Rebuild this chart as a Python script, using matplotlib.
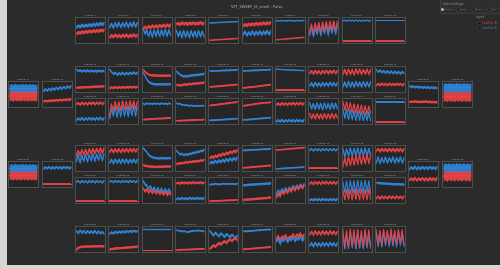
import matplotlib
matplotlib.use('Agg')
import matplotlib.pyplot as plt
from matplotlib.patches import Rectangle
import numpy as np

# ---------------- data (0-100 scale inside each panel) ----------------
TITLE = "VFT_SWEEP_(E_seed) - Pulse"
LEGEND_LABELS = ["Condition A", "Condition B"]
RADIO_LABELS = ["Individual", "Global", "Linked", "Auto"]

R1_TITLES = ["Channel %d" % i for i in range(1, 11)]
R1_RED = [
    [35,42,38,45,40,46,42,48,43,49,45,50,46,52,48,53],
    [20,30,22,32,23,30,22,31,24,32,23,30,25,33,24,31],
    [55,65,58,68,60,70,62,70,63,72,64,73,65,74,66,75],
    [75,80,74,82,76,80,75,81,77,82,76,80,78,83,77,81],
    [8,9,9,10,10,11,11,12,12,13,13,14,14,15,15,16],
    [68,75,70,77,72,78,73,80,74,80,75,82,76,82,78,84],
    [10,11,12,12,13,14,14,15,16,16,17,18,18,19,20,20],
    [40,75,35,78,45,80,40,82,48,85,45,85,50,86,48,85],
    [5,5,5,5,5,5,5,5,5,5,5,5,5,5,5,5],
    [5,5,5,5,5,5,5,5,5,5,5,5,5,5,5,5],
]
R1_BLUE = [
    [62,70,64,72,66,73,67,75,69,76,70,78,72,80,74,81],
    [62,78,60,80,64,82,62,80,65,83,63,81,66,84,64,82],
    [60,35,50,25,48,22,50,25,52,24,50,26,53,25,52,28],
    [50,25,45,20,48,22,46,20,47,23,45,21,48,24,46,22],
    [80,80,81,81,82,82,82,83,83,83,84,84,85,85,85,86],
    [30,45,28,42,32,46,30,44,33,46,32,45,35,48,33,46],
    [88,90,88,91,89,90,88,91,89,90,88,91,89,90,89,91],
    [30,65,25,60,35,70,28,65,38,72,30,68,40,72,35,70],
    [88,92,87,92,88,92,87,92,88,92,87,92,88,92,88,91],
    [92,92,92,92,92,92,92,92,92,92,92,92,92,92,92,92],
]
R1_SPREAD = [7, 7, 7, 7, 2, 7, 2, 9, 2, 1.5]

R2_TITLES = ["Channel %d" % i for i in range(13, 23)]
R2_RED = [
    [15,16,16,17,17,18,18,18,19,19,20,20,20,21,21,22],
    [12,18,13,19,14,18,14,19,15,19,15,20,16,20,16,20],
    [90,82,75,70,68,66,67,66,66,65,66,65,66,65,66,66],
    [25,28,24,27,28,30,27,32,30,33,31,35,33,36,35,38],
    [18,19,20,20,21,22,22,23,24,24,25,26,26,27,28,28],
    [14,15,16,17,18,18,19,20,21,22,23,24,25,26,27,28],
    [5,5,5,5,5,5,5,5,5,5,5,5,5,5,5,5],
    [75,85,73,86,74,85,72,86,75,87,74,86,76,87,75,86],
    [70,90,68,92,70,90,68,92,72,92,70,90,72,92,70,90],
    [24,32,25,33,26,32,24,33,26,32,25,33,26,32,25,32],
]
R2_BLUE = [
    [90,84,88,82,87,83,88,82,87,83,86,82,87,83,86,83],
    [90,80,72,78,68,76,70,78,70,77,71,78,72,79,72,78],
    [80,65,50,40,35,32,30,30,29,30,29,30,29,30,30,30],
    [82,76,70,65,62,64,62,66,65,68,67,70,68,72,70,74],
    [84,85,84,86,85,86,86,87,86,88,87,88,88,89,88,90],
    [84,85,86,85,87,86,88,87,88,89,88,90,89,90,90,91],
    [92,91,91,90,90,89,89,89,88,88,88,87,87,87,86,86],
    [22,35,20,36,22,34,21,36,23,35,22,37,24,36,23,35],
    [18,38,16,40,18,38,17,40,20,38,18,40,20,38,19,40],
    [90,80,88,78,86,76,85,75,84,74,83,74,82,73,82,74],
]
R2_SPREAD = [5, 5, 5, 5, 3.5, 3.5, 2, 6, 6, 5]

R3_TITLES = ["Channel %d" % i for i in range(23, 33)]
R3_RED = [
    [78,86,76,87,78,86,77,87,79,88,78,87,80,88,79,87],
    [30,80,50,90,55,88,52,92,58,90,55,92,60,92,58,90],
    [15,16,17,17,18,18,19,19,20,20,20,21,21,22,22,22],
    [10,11,11,12,12,12,13,13,13,14,14,14,15,15,15,16],
    [74,75,76,77,78,79,80,81,82,83,84,85,86,87,88,89],
    [72,74,75,76,78,78,80,81,82,83,84,85,86,86,87,88],
    [76,84,75,85,77,84,76,85,78,86,77,85,78,86,77,85],
    [40,20,38,18,40,20,38,18,40,20,38,20,40,20,38,22],
    [90,55,88,50,85,45,80,42,78,40,75,40,72,38,70,40],
    [5,5,5,5,5,5,5,5,5,5,5,5,5,5,5,5],
]
R3_BLUE = [
    [12,22,14,23,13,22,14,24,15,22,14,23,15,24,14,22],
    [20,60,30,70,25,65,28,72,30,68,28,70,32,72,30,68],
    [82,78,84,80,83,79,84,80,83,79,84,80,83,79,84,80],
    [84,80,82,76,78,74,76,72,75,72,74,71,74,72,74,73],
    [12,13,13,14,14,15,15,16,16,17,17,18,18,19,19,20],
    [14,15,15,16,17,17,18,19,19,20,21,21,22,23,23,24],
    [6,14,7,15,6,14,7,15,8,14,7,15,8,14,7,15],
    [85,60,82,58,84,60,82,56,84,60,82,58,84,60,83,60],
    [60,20,58,15,55,15,52,12,50,12,48,10,45,12,45,10],
    [88,88,88,88,88,88,88,88,88,88,88,88,88,88,88,88],
]
R3_SPREAD = [5, 7, 3.5, 3.5, 3.5, 3.5, 5, 6, 6, 2]

R4_TITLES = ["Channel %d" % i for i in range(37, 47)]
R4_RED = [
    [60,82,62,85,65,86,66,88,68,90,70,90,72,92,72,92],
    [75,88,74,88,76,89,75,88,77,90,76,89,78,90,77,89],
    [22,20,18,17,16,16,15,15,15,16,15,16,16,17,16,17],
    [25,30,28,32,30,35,32,36,35,38,36,40,38,42,40,45],
    [50,58,52,62,56,66,60,70,64,74,68,78,72,82,76,85],
    [10,11,12,12,13,14,14,15,16,16,17,18,18,19,20,20],
    [84,85,86,86,87,88,88,89,90,90,91,92,92,93,94,94],
    [8,8,8,8,8,8,8,8,8,8,8,8,8,8,8,8],
    [15,50,18,55,20,58,22,60,25,62,25,62,28,65,28,65],
    [80,90,78,90,80,90,78,90,80,90,78,90,80,90,78,90],
]
R4_BLUE = [
    [35,65,30,62,38,66,35,64,40,68,38,66,42,70,40,68],
    [30,45,28,46,30,45,29,46,31,46,30,45,32,46,31,45],
    [92,85,75,65,58,55,52,52,50,50,52,50,51,50,52,51],
    [82,74,66,70,62,68,64,70,68,74,72,78,76,82,80,86],
    [28,36,30,40,32,42,34,44,36,48,38,50,40,52,42,55],
    [82,84,83,85,84,86,85,86,86,87,87,88,88,88,89,90],
    [6,7,7,8,8,9,9,10,10,11,11,12,12,13,13,14],
    [82,90,80,90,82,89,80,90,82,90,81,89,82,90,81,89],
    [90,55,88,60,92,58,90,62,92,60,90,62,92,60,90,62],
    [30,55,28,52,32,55,30,52,33,55,30,52,33,55,30,52],
]
R4_SPREAD = [7, 6, 5, 5, 6, 3.5, 3, 3.5, 7, 6]

R5_TITLES = ["Channel %d" % i for i in range(47, 57)]
R5_RED = [
    [3,3,3,3,3,3,3,3,3,3,3,3,3,3,3,3],
    [3,3,3,3,3,3,3,3,3,3,3,3,3,3,3,3],
    [60,45,55,40,52,38,50,36,48,34,45,32,44,30,42,30],
    [78,82,77,84,79,83,78,84,80,84,79,83,80,84,79,83],
    [5,5,6,6,6,7,7,7,8,8,8,9,9,9,10,10],
    [10,11,12,12,13,14,14,15,16,16,17,18,18,19,20,20],
    [20,35,25,45,35,50,40,55,45,62,50,65,55,70,60,72],
    [75,85,74,86,76,85,75,86,77,86,76,85,77,86,76,85],
    [50,10,52,12,50,10,55,12,52,10,55,12,52,10,55,12],
    [15,25,14,26,16,25,15,26,17,25,16,26,17,25,16,26],
]
R5_BLUE = [
    [82,90,80,90,82,89,80,90,82,90,80,90,82,89,80,90],
    [84,90,82,90,84,89,82,90,84,90,82,90,84,89,82,90],
    [90,75,70,55,68,50,62,45,60,42,58,40,55,40,55,38],
    [12,18,13,19,14,18,13,19,15,18,14,19,15,18,14,19],
    [72,76,74,78,75,76,74,78,76,77,75,78,76,77,75,78],
    [70,72,72,74,73,75,74,76,75,77,76,78,77,79,78,80],
    [30,50,35,55,42,60,45,62,50,68,55,70,58,75,60,76],
    [8,14,8,15,9,14,8,15,9,14,8,15,9,14,8,15],
    [85,40,88,35,90,40,88,35,90,40,88,38,90,40,88,38],
    [82,80,81,78,80,77,79,76,78,75,77,75,76,74,76,73],
]
R5_SPREAD = [3.5, 3.5, 6, 5, 3.5, 5, 7, 5, 6, 5]

R6_TITLES = ["Channel %d" % i for i in range(59, 69)]
R6_RED = [
    [5,15,18,20,19,21,20,21,20,22,21,21,22,22,21,22],
    [8,10,11,12,13,13,14,15,15,16,17,17,18,19,19,20],
    [3,3,3,3,3,3,3,3,3,3,3,3,3,3,3,3],
    [5,6,6,7,7,7,8,8,8,9,9,9,10,10,10,11],
    [10,18,25,20,28,35,28,38,42,35,45,50,42,52,55,45],
    [8,9,10,10,11,12,12,13,14,14,15,16,16,17,18,18],
    [50,65,45,62,55,68,50,60,58,72,55,70,62,75,58,70],
    [70,82,68,84,70,82,69,84,71,83,70,84,72,83,70,82],
    [90,20,85,15,92,25,88,18,90,22,85,15,92,25,88,20],
    [88,30,85,25,90,35,86,28,92,32,85,28,90,35,88,30],
]
R6_BLUE = [
    [85,75,88,76,86,74,85,76,84,75,86,73,84,74,82,72],
    [72,80,74,82,76,83,77,84,78,85,80,86,81,86,82,85],
    [90,91,90,91,90,91,90,91,90,91,90,91,90,91,90,91],
    [88,86,85,83,84,82,80,82,84,85,86,86,87,85,84,83],
    [85,75,65,78,70,62,75,68,60,72,66,58,70,62,56,65],
    [82,84,83,85,84,86,86,87,88,88,89,90,90,91,91,90],
    [40,55,30,50,45,58,38,52,48,60,42,55,50,62,45,55],
    [22,35,20,36,22,34,21,36,23,35,22,36,24,35,22,34],
    [70,10,65,12,75,15,68,10,72,12,65,10,75,15,68,12],
    [75,20,70,18,78,25,72,20,76,22,70,18,78,25,72,20],
]
R6_SPREAD = [5, 5, 2, 3.5, 6, 3.5, 7, 6, 7, 7]

# side panels: [left outer, left inner] and [right inner, right outer]
SIDE_UP_TITLES = ["Channel 11", "Channel 12", "Channel 33", "Channel 34"]
SIDE_UP_RED = [
    [40,44,39,45,40,44,39,45,40,44,39,45,40,44,39,44],
    [20,24,21,25,22,26,23,27,24,28,25,29,26,30,27,31],
    [18,20,19,21,19,20,18,20,19,21,18,20,17,19,18,17],
    [38,43,37,44,38,43,37,44,38,43,37,44,38,43,37,43],
]
SIDE_UP_BLUE = [
    [70,74,70,75,71,74,70,75,71,74,70,75,71,74,70,74],
    [62,72,64,74,66,76,68,78,70,80,72,82,74,84,76,85],
    [85,80,84,79,83,78,82,77,81,77,80,76,80,76,79,75],
    [74,78,74,79,75,78,74,79,75,78,74,79,75,78,74,78],
]
SIDE_UP_SPREAD = [19, 5, 5, 19]

SIDE_LO_TITLES = ["Channel 35", "Channel 36", "Channel 57", "Channel 58"]
SIDE_LO_RED = [
    [42,47,41,48,42,47,41,48,42,47,41,48,42,47,41,47],
    [8,8,8,8,8,8,8,8,8,8,8,8,8,8,8,8],
    [24,34,25,35,24,34,26,35,25,34,24,35,26,34,25,35],
    [40,46,38,47,40,46,39,47,40,46,39,47,40,46,39,46],
]
SIDE_LO_BLUE = [
    [72,76,72,77,73,76,72,77,73,76,72,77,73,76,72,76],
    [72,80,74,82,73,80,74,82,74,81,73,82,75,81,74,80],
    [70,80,72,82,71,80,72,81,73,80,72,82,73,80,72,81],
    [72,78,73,79,72,78,73,79,74,78,73,79,72,78,73,78],
]
SIDE_LO_SPREAD = [17, 5, 6, 19]

# ---------------- drawing ----------------
W, H = 500, 268
RED = '#ee4346'
BLUE = '#2f87dc'
BG = '#2b2b2b'

fig = plt.figure(figsize=(W / 100, H / 100), dpi=100)
fig.patch.set_facecolor(BG)

ov = fig.add_axes([0, 0, 1, 1], zorder=0)
ov.set_xlim(0, W)
ov.set_ylim(H, 0)
ov.axis('off')
ov.add_patch(Rectangle((0, 0), 7, H, color='#d6d6d6', lw=0))
ov.add_patch(Rectangle((0, H - 3), W, 3, color='#d6d6d6', lw=0))

ov.text(257, 6, TITLE, fontsize=2.6, color='#bdbdbd', ha='center', va='center')

# control box
ov.add_patch(Rectangle((440, -1), 62, 14, facecolor='#2e2e2e', edgecolor='#454545', lw=0.5))
ov.text(443, 3.5, "Selection Range", fontsize=1.8, color='#9a9a9a', va='center')
for i, lab in enumerate(RADIO_LABELS):
    x0 = 442 + i * 15.5
    ov.plot([x0], [9], 'o', ms=2.2, mfc='#bbbbbb' if i == 0 else '#111111',
            mec='#666666', mew=0.3)
    ov.text(x0 + 2, 9, lab, fontsize=1.5, color='#8a8a8a', va='center')
ov.text(476, 17, "Legend", fontsize=1.8, color='#9a9a9a', va='center')
for j, (lab, col) in enumerate(zip(LEGEND_LABELS, [RED, BLUE])):
    y0 = 22.5 + j * 5.5
    ov.plot([479], [y0], 'o', ms=2.2, mfc='#111111', mec='#555555', mew=0.3)
    ov.text(482, y0, lab, fontsize=1.8, color=col, va='center')

PW, PH = 30, 26


def panel(x, y, title, red, blue, spread):
    ax = fig.add_axes([x / W, 1 - (y + PH) / H, PW / W, PH / H], zorder=2)
    ax.set_facecolor('#262626')
    for sp in ax.spines.values():
        sp.set_color('#575757')
        sp.set_linewidth(0.6)
    t = np.arange(len(red))
    for vals, col in ((blue, BLUE), (red, RED)):
        v = np.asarray(vals, dtype=float)
        ax.fill_between(t, v - spread, v + spread, color=col, lw=0, alpha=0.9)
        ax.plot(t, v, color=col, lw=0.7)
    ax.set_xlim(-0.6, len(red) - 0.4)
    ax.set_ylim(-4, 104)
    ax.set_xticks([])
    ax.set_yticks([])
    ov.text(x + PW / 2, y - 1.8, title, fontsize=1.5, color='#b5b5b5',
            ha='center', va='center')


COL_X = [75 + i * 33.33 for i in range(10)]
rows = [
    (17, R1_TITLES, R1_RED, R1_BLUE, R1_SPREAD),
    (66, R2_TITLES, R2_RED, R2_BLUE, R2_SPREAD),
    (98, R3_TITLES, R3_RED, R3_BLUE, R3_SPREAD),
    (145, R4_TITLES, R4_RED, R4_BLUE, R4_SPREAD),
    (177, R5_TITLES, R5_RED, R5_BLUE, R5_SPREAD),
    (226, R6_TITLES, R6_RED, R6_BLUE, R6_SPREAD),
]
for y, titles, reds, blues, spreads in rows:
    for i in range(10):
        panel(COL_X[i], y, titles[i], reds[i], blues[i], spreads[i])

SIDE_X = [8, 42, 408, 442]
for y, titles, reds, blues, spreads in [
        (81, SIDE_UP_TITLES, SIDE_UP_RED, SIDE_UP_BLUE, SIDE_UP_SPREAD),
        (161, SIDE_LO_TITLES, SIDE_LO_RED, SIDE_LO_BLUE, SIDE_LO_SPREAD)]:
    for i in range(4):
        panel(SIDE_X[i], y, titles[i], reds[i], blues[i], spreads[i])

fig.savefig('out.png', dpi=100, facecolor=BG)
